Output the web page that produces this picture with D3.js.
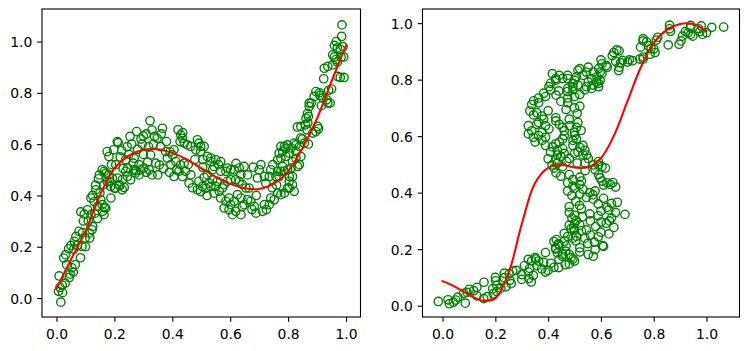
<!DOCTYPE html>
<html><head><meta charset="utf-8">
<script src="https://cdn.jsdelivr.net/npm/d3@7"></script>
<style>html,body{margin:0;padding:0;background:#fff;} svg{display:block;}</style>
</head><body><svg id="c" width="749" height="351"></svg>
<script>
// sample points (x, y) of the left panel; the right panel shows the same samples with x and y swapped
const samples = [
[0.015,-0.016],[0.007,0.026],[0.021,0.021],[0.012,0.041],[0.009,0.086],[0.030,0.058],[0.044,0.080],[0.058,0.101],
[0.065,0.130],[0.035,0.130],[0.053,0.118],[0.025,0.156],[0.032,0.169],[0.042,0.192],[0.050,0.205],[0.062,0.221],
[0.067,0.240],[0.083,0.157],[0.088,0.201],[0.100,0.200],[0.078,0.260],[0.099,0.234],[0.084,0.336],[0.096,0.327],
[0.047,0.093],[0.060,0.190],[0.072,0.205],[0.090,0.255],[0.093,0.300],[0.020,0.050],
[0.113,0.253],[0.125,0.279],[0.107,0.344],[0.119,0.325],[0.119,0.390],[0.125,0.400],[0.130,0.376],[0.136,0.422],
[0.142,0.357],[0.159,0.338],[0.165,0.353],[0.153,0.383],[0.188,0.390],[0.148,0.480],[0.165,0.494],[0.182,0.455],
[0.115,0.234],[0.123,0.266],[0.142,0.310],[0.110,0.300],[0.135,0.440],[0.145,0.465],[0.158,0.500],[0.170,0.487],
[0.181,0.480],[0.175,0.454],[0.164,0.441],[0.193,0.467],[0.158,0.364],[0.170,0.351],[0.164,0.325],[0.175,0.571],
[0.181,0.552],[0.198,0.578],[0.187,0.435],[0.190,0.520],[0.132,0.330],[0.150,0.410],
[0.200,0.429],[0.219,0.439],[0.234,0.431],[0.211,0.468],[0.228,0.462],[0.246,0.507],[0.275,0.496],[0.210,0.610],
[0.244,0.590],[0.220,0.550],[0.239,0.539],[0.268,0.545],[0.265,0.526],[0.254,0.630],[0.277,0.649],[0.213,0.606],
[0.204,0.428],[0.216,0.441],[0.227,0.422],[0.245,0.474],[0.256,0.461],[0.268,0.500],[0.239,0.494],[0.273,0.487],
[0.290,0.500],[0.285,0.480],[0.292,0.620],[0.300,0.632],[0.296,0.600],[0.285,0.520],[0.205,0.520],[0.225,0.575],
[0.260,0.600],[0.230,0.505],[0.250,0.560],[0.280,0.580],
[0.323,0.691],[0.366,0.662],[0.339,0.630],[0.348,0.623],[0.310,0.640],[0.325,0.558],[0.343,0.526],[0.355,0.519],
[0.383,0.545],[0.377,0.571],[0.302,0.507],[0.310,0.490],[0.320,0.500],[0.330,0.480],[0.315,0.530],[0.335,0.600],
[0.360,0.590],[0.370,0.505],[0.390,0.490],[0.395,0.520],[0.380,0.610],[0.362,0.640],[0.330,0.655],[0.300,0.560],
[0.350,0.480],[0.392,0.570],[0.318,0.590],[0.400,0.558],
[0.406,0.578],[0.420,0.656],[0.429,0.636],[0.435,0.623],[0.427,0.610],[0.441,0.604],[0.452,0.597],[0.464,0.591],
[0.412,0.532],[0.429,0.519],[0.441,0.526],[0.423,0.494],[0.406,0.474],[0.435,0.474],[0.458,0.448],[0.464,0.480],
[0.446,0.494],[0.487,0.617],[0.492,0.604],[0.481,0.578],[0.498,0.571],[0.487,0.422],[0.492,0.455],[0.498,0.415],
[0.470,0.430],[0.478,0.540],[0.455,0.520],[0.498,0.591],[0.415,0.500],[0.436,0.645],
[0.510,0.591],[0.521,0.552],[0.533,0.532],[0.539,0.500],[0.504,0.435],[0.516,0.428],[0.527,0.448],[0.533,0.435],
[0.521,0.480],[0.533,0.546],[0.550,0.539],[0.567,0.532],[0.544,0.513],[0.567,0.494],[0.585,0.494],[0.590,0.507],
[0.539,0.461],[0.556,0.455],[0.550,0.435],[0.544,0.409],[0.562,0.416],[0.573,0.429],[0.579,0.442],[0.590,0.455],
[0.567,0.390],[0.585,0.377],[0.579,0.351],[0.596,0.390],[0.596,0.344],[0.510,0.470],[0.505,0.510],[0.560,0.520],
[0.520,0.400],[0.505,0.540],
[0.602,0.500],[0.614,0.500],[0.631,0.507],[0.648,0.513],[0.637,0.481],[0.602,0.461],[0.619,0.461],[0.631,0.455],
[0.642,0.442],[0.654,0.429],[0.665,0.429],[0.620,0.525],[0.671,0.377],[0.660,0.383],[0.648,0.364],[0.642,0.357],
[0.637,0.390],[0.625,0.403],[0.614,0.377],[0.602,0.364],[0.608,0.325],[0.619,0.338],[0.637,0.325],[0.689,0.331],
[0.683,0.357],[0.694,0.468],[0.700,0.500],[0.706,0.520],[0.680,0.510],[0.660,0.480],[0.690,0.400],[0.675,0.345],
[0.712,0.338],[0.718,0.364],[0.735,0.364],[0.740,0.390],[0.752,0.383],[0.764,0.409],[0.725,0.345],[0.775,0.403],
[0.787,0.409],[0.798,0.429],[0.764,0.539],[0.747,0.520],[0.740,0.500],[0.764,0.494],[0.758,0.474],[0.735,0.474],
[0.718,0.474],[0.723,0.448],[0.775,0.591],[0.798,0.597],[0.787,0.591],[0.781,0.571],[0.792,0.552],[0.775,0.545],
[0.787,0.494],[0.781,0.513],[0.769,0.565],[0.792,0.584],[0.775,0.494],[0.769,0.474],[0.798,0.500],[0.745,0.430],
[0.760,0.440],
[0.804,0.474],[0.815,0.442],[0.821,0.416],[0.804,0.429],[0.844,0.624],[0.856,0.604],[0.839,0.591],[0.821,0.604],
[0.810,0.585],[0.827,0.571],[0.804,0.565],[0.815,0.532],[0.827,0.545],[0.833,0.513],[0.810,0.507],[0.873,0.747],
[0.862,0.701],[0.868,0.682],[0.865,0.656],[0.844,0.669],[0.832,0.667],[0.827,0.597],[0.844,0.552],[0.839,0.520],
[0.804,0.455],[0.815,0.474],[0.870,0.708],[0.867,0.720],[0.902,0.669],[0.896,0.649],[0.885,0.643],[0.870,0.600],
[0.850,0.620],[0.896,0.805],[0.890,0.786],[0.873,0.760],[0.860,0.675],[0.880,0.760],
[0.986,1.065],[0.985,1.020],[0.966,1.000],[0.970,0.975],[0.980,0.970],[0.960,0.985],[0.954,0.948],[0.983,0.939],
[0.965,0.930],[0.970,0.920],[0.925,0.896],[0.937,0.903],[0.954,0.909],[0.971,0.864],[0.980,0.860],[0.923,0.855],
[0.950,0.815],[0.933,0.773],[0.937,0.760],[0.910,0.790],[0.920,0.780],[0.915,0.750],[0.945,0.760],[0.990,0.980],
[0.993,0.860],[0.905,0.660],[0.960,0.940],[0.940,0.810],[0.908,0.800],[0.992,0.940]
];

// red curves, read at these x positions
const fitX = [0,0.05,0.1,0.15,0.2,0.25,0.3,0.35,0.4,0.45,0.5,0.55,0.6,0.65,0.7,0.75,0.8,0.85,0.9,0.95,1.0];
const leftFitY = [0.036,0.15,0.26,0.4,0.505,0.555,0.578,0.58,0.566,0.54,0.506,0.472,0.445,0.428,0.425,0.445,0.495,0.585,0.7,0.845,0.985];
const rightFitY = [0.087,0.066,0.038,0.018,0.026,0.115,0.288,0.433,0.488,0.498,0.489,0.49,0.522,0.603,0.722,0.841,0.93,0.976,0.997,0.997,0.972];

const tickValues = [0,0.2,0.4,0.6,0.8,1.0];

const svg = d3.select('#c');
const FONT = '"DejaVu Sans", sans-serif';

function panel(box, xDom, yDom, pts, lineX, lineY) {
  const x = d3.scaleLinear().domain(xDom).range([box.x0, box.x1]);
  const y = d3.scaleLinear().domain(yDom).range([box.y1, box.y0]);
  const g = svg.append('g');

  g.append('g').selectAll('circle').data(pts).join('circle')
    .attr('cx', d => x(d[0])).attr('cy', d => y(d[1])).attr('r', 4.17)
    .attr('fill', 'none').attr('stroke', '#008000').attr('stroke-width', 1.39);

  const line = d3.line().x((d, i) => x(lineX[i])).y(d => y(d)).curve(d3.curveCatmullRom);
  g.append('path').attr('d', line(lineY)).attr('fill', 'none')
    .attr('stroke', '#ff0000').attr('stroke-width', 2.08).attr('stroke-linecap', 'square');

  g.append('rect').attr('x', box.x0).attr('y', box.y0)
    .attr('width', box.x1 - box.x0).attr('height', box.y1 - box.y0)
    .attr('fill', 'none').attr('stroke', '#000').attr('stroke-width', 1.1);

  const ax = g.append('g').attr('transform', `translate(0,${box.y1})`)
    .call(d3.axisBottom(x).tickValues(tickValues).tickFormat(d3.format('.1f')).tickSize(4.86).tickPadding(7.6));
  const ay = g.append('g').attr('transform', `translate(${box.x0},0)`)
    .call(d3.axisLeft(y).tickValues(tickValues).tickFormat(d3.format('.1f')).tickSize(4.86).tickPadding(4.86));
  [ax, ay].forEach(a => {
    a.select('.domain').remove();
    a.selectAll('line').attr('stroke', '#000').attr('stroke-width', 1.1);
    a.selectAll('text').attr('fill', '#000').style('font-family', FONT).style('font-size', '13.9px');
  });
  ay.selectAll('text').attr('dy', '0.36em');
}

panel({x0: 42, x1: 360.5, y0: 9, y1: 317}, [-0.05, 1.05], [-0.074, 1.127], samples, fitX, leftFitY);
panel({x0: 422.5, x1: 739.5, y0: 9, y1: 317}, [-0.076, 1.125], [-0.04, 1.05], samples.map(d => [d[1], d[0]]), fitX, rightFitY);
</script>
</body></html>
